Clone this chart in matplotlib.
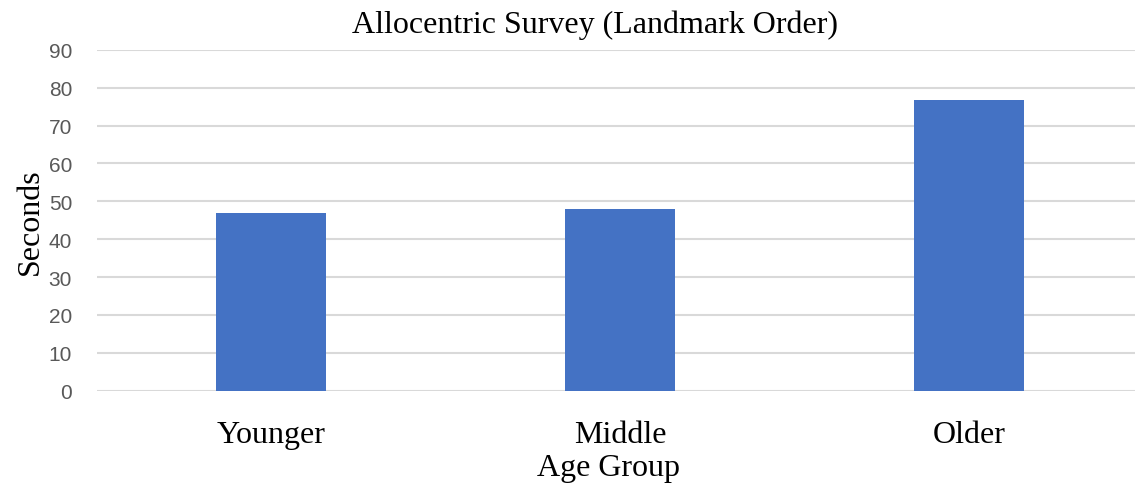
import matplotlib.pyplot as plt

# Datos del grafico
groups = ['Younger', 'Middle', 'Older']
seconds = [46.9, 47.9, 76.7]
yticks = [0, 10, 20, 30, 40, 50, 60, 70, 80, 90]

serif = ['Liberation Serif', 'DejaVu Serif']

fig = plt.figure(figsize=(11.35, 4.89), dpi=100)
ax = fig.add_axes([0.0855, 0.199, 0.9145, 0.697])

x = range(len(groups))
ax.bar(x, seconds, width=0.315, color='#4472C4', zorder=3)

ax.set_xlim(-0.5, 2.476)
ax.set_ylim(0, 90)
ax.set_yticks(yticks)
ax.yaxis.grid(True, color='#d9d9d9', linewidth=1.5, zorder=0)
ax.set_axisbelow(True)
for s in ax.spines.values():
    s.set_visible(False)
ax.tick_params(length=0)
ax.tick_params(axis='y', labelsize=15, labelcolor='#595959', pad=18)
ax.tick_params(axis='x', pad=21)
for lab in ax.get_yticklabels():
    lab.set_family(['Liberation Sans', 'DejaVu Sans'])

ax.set_xticks(list(x))
ax.set_xticklabels(groups, family=serif, fontsize=23, color='black')

ax.set_title('Allocentric Survey (Landmark Order)', family=serif, fontsize=23, pad=13, x=0.48)
ax.set_ylabel('Seconds', family=serif, fontsize=23, labelpad=3)
ax.set_xlabel('Age Group', family=serif, fontsize=23)
ax.xaxis.set_label_coords(0.493, -0.225)
ax.xaxis.label.set_va('center')

fig.savefig('out.png', dpi=100)
